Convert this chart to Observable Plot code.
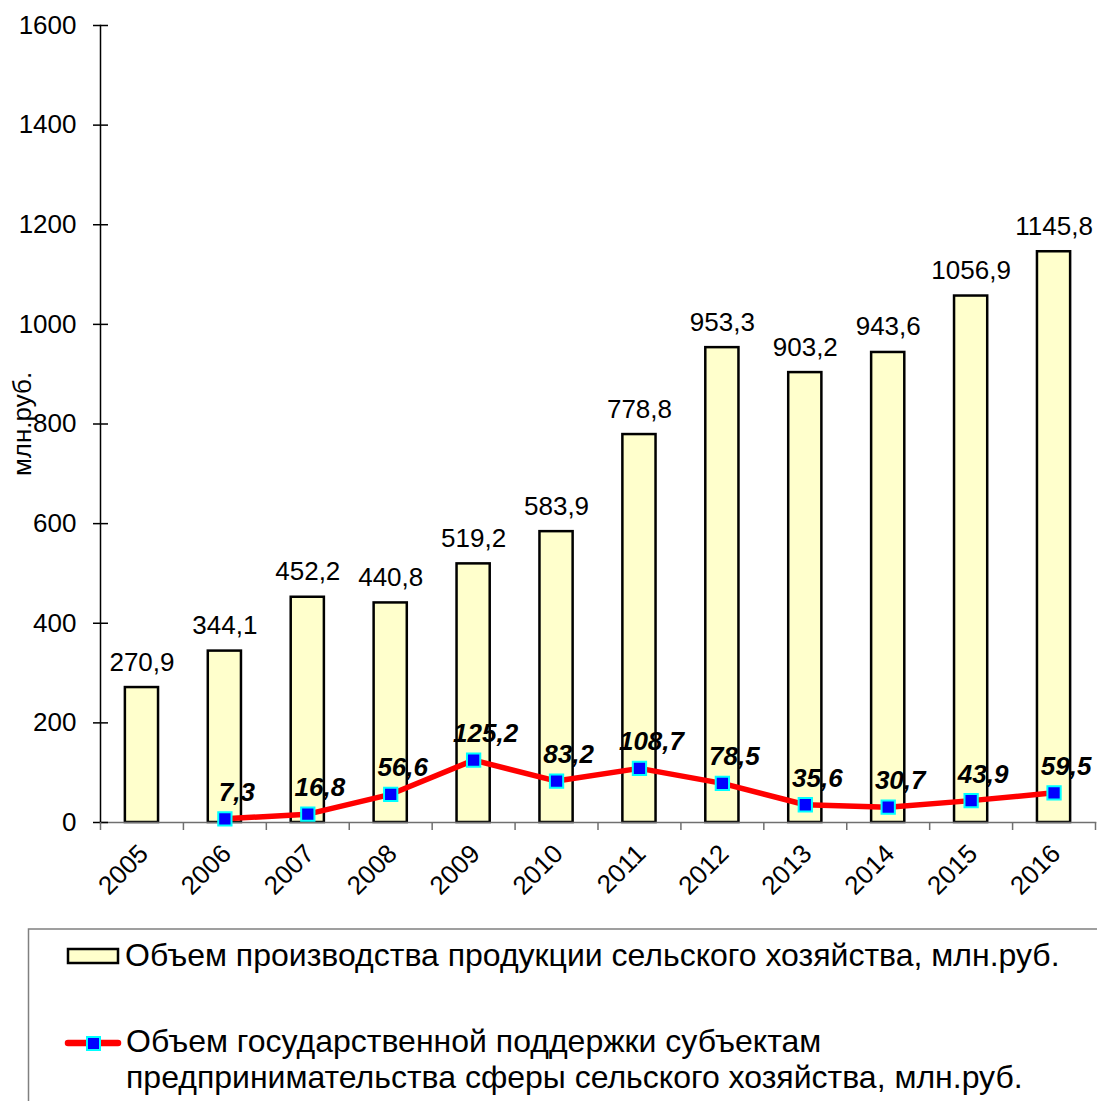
<!DOCTYPE html>
<html>
<head>
<meta charset="utf-8">
<script src="https://cdn.jsdelivr.net/npm/d3@7"></script>
<script src="https://cdn.jsdelivr.net/npm/@observablehq/plot@0.6"></script>
<style>
  html, body { margin: 0; padding: 0; background: #fff; }
  #wrap { position: relative; width: 1097px; height: 1101px; overflow: hidden; font-family: "Liberation Sans", Arial, sans-serif; }
  #legend { position: absolute; left: 0; top: 925px; }
</style>
</head>
<body>
<div id="wrap">
  <div id="chart"></div>
  <svg id="legend" width="1097" height="176"></svg>
</div>
<script>
const years = ["2005","2006","2007","2008","2009","2010","2011","2012","2013","2014","2015","2016"];
const production = [270.9, 344.1, 452.2, 440.8, 519.2, 583.9, 778.8, 953.3, 903.2, 943.6, 1056.9, 1145.8];
const support = [null, 7.3, 16.8, 56.6, 125.2, 83.2, 108.7, 78.5, 35.6, 30.7, 43.9, 59.5];
const yTicks = [0, 200, 400, 600, 800, 1000, 1200, 1400, 1600];
const seriesBars = "Объем производства продукции сельского хозяйства, млн.руб.";
const seriesLine = ["Объем государственной поддержки субъектам", "предпринимательства сферы сельского хозяйства, млн.руб."];
const yLabel = "млн.руб.";

const fmt = v => v.toFixed(1).replace(".", ",");
const bars = years.map((y, i) => ({year: y, value: production[i]}));
const line = years.map((y, i) => ({year: y, value: support[i]})).filter(d => d.value != null);

const W = 1097, H = 925, ML = 100, MR = 2, MT = 25, MB = 103;
const step = (W - ML - MR) / years.length;
const FS = 26;

const chart = Plot.plot({
  width: W, height: H,
  marginLeft: ML, marginRight: MR, marginTop: MT, marginBottom: MB,
  style: { fontFamily: "'Liberation Sans', Arial, sans-serif", fontSize: FS + "px", color: "#000", background: "#fff" },
  x: { domain: years, paddingInner: 0.6, paddingOuter: 0.3, round: false },
  y: { domain: [0, 1600] },
  marks: [
    Plot.barY(bars, { x: "year", y: "value", fill: "#FFFFCC", stroke: "#000", strokeWidth: 2.5 }),
    Plot.text(bars, { x: "year", y: "value", text: d => fmt(d.value), lineAnchor: "bottom", dy: -17, fontSize: FS }),
    Plot.frame({ anchor: "bottom", stroke: "#707070", strokeWidth: 1.5 }),
    Plot.frame({ anchor: "left", stroke: "#000", strokeWidth: 1.5 }),
    Plot.axisY({ ticks: yTicks, tickSize: 15, dx: 8, text: null, label: null, strokeWidth: 1.5 }),
    Plot.axisY({ ticks: yTicks, tickFormat: d => String(d), tickSize: 0, tickPadding: 24, fontSize: FS, label: yLabel, labelAnchor: "center", labelArrow: "none", labelOffset: 88 }),
    Plot.axisX({ tickSize: 8, text: null, label: null, dx: -step / 2, stroke: "#707070", strokeWidth: 1.5 }),
    Plot.axisX({ ticks: [years[years.length - 1]], tickSize: 8, text: null, label: null, dx: step / 2, stroke: "#707070", strokeWidth: 1.5 }),
    Plot.axisX({ tickSize: 0, tickPadding: 27, tickRotate: -45, fontSize: FS, label: null, dx: 2 }),
    Plot.line(line, { x: "year", y: "value", stroke: "#FF0000", strokeWidth: 5.5 }),
    Plot.dot(line, { x: "year", y: "value", symbol: "square", r: 7.5, fill: "#0000FF", stroke: "#00FFFF", strokeWidth: 2 }),
    Plot.text(line, { x: "year", y: "value", text: d => fmt(d.value), lineAnchor: "bottom", dx: 12, dy: -18, fontSize: FS, fontWeight: "bold", fontStyle: "italic" })
  ]
});
document.getElementById("chart").appendChild(chart);

// Legend (drawn below the chart's SVG)
const lg = d3.select("#legend").style("font-family", "'Liberation Sans', Arial, sans-serif");
lg.append("rect").attr("x", 28.5).attr("y", 4).attr("width", 1100).attr("height", 200)
  .attr("fill", "none").attr("stroke", "#808080").attr("stroke-width", 1.5);
lg.append("rect").attr("x", 68).attr("y", 24).attr("width", 50).attr("height", 14)
  .attr("fill", "#FFFFCC").attr("stroke", "#000").attr("stroke-width", 2.5);
lg.append("text").attr("x", 125).attr("y", 41).attr("font-size", 32).text(seriesBars);
lg.append("line").attr("x1", 68).attr("x2", 118).attr("y1", 118).attr("y2", 118)
  .attr("stroke", "#FF0000").attr("stroke-width", 6.5).attr("stroke-linecap", "round");
lg.append("rect").attr("x", 87).attr("y", 112).attr("width", 13).attr("height", 13)
  .attr("fill", "#0000FF").attr("stroke", "#00FFFF").attr("stroke-width", 2);
lg.append("text").attr("x", 126).attr("y", 127).attr("font-size", 32).text(seriesLine[0]);
lg.append("text").attr("x", 126).attr("y", 163).attr("font-size", 32).text(seriesLine[1]);
</script>
</body>
</html>
